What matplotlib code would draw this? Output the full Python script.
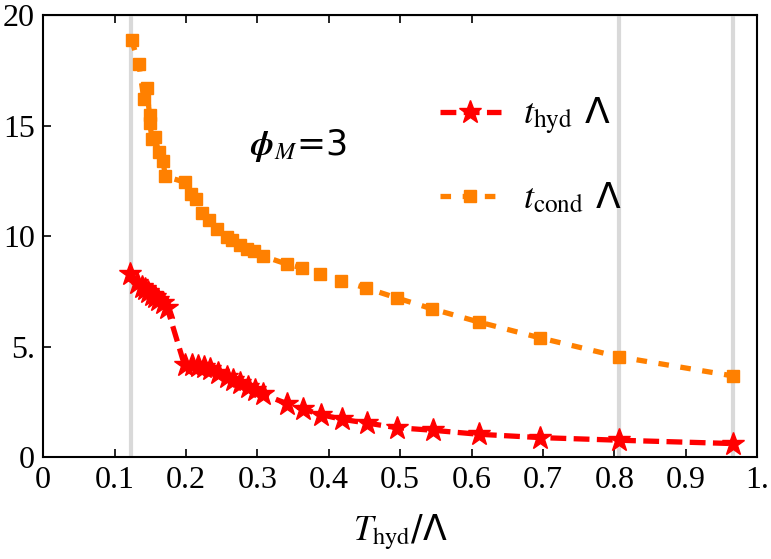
import numpy as np
import matplotlib
matplotlib.use("Agg")
import matplotlib.pyplot as plt

plt.rcParams['mathtext.fontset'] = 'stix'
plt.rcParams['font.family'] = ['Liberation Serif', 'DejaVu Serif']

# t_cond * Lambda (orange squares)
x_cond = [0.124, 0.134, 0.141, 0.145, 0.149, 0.149, 0.153, 0.156, 0.162, 0.168, 0.171,
          0.198, 0.207, 0.214, 0.223, 0.232, 0.244, 0.257, 0.264, 0.275, 0.285, 0.295,
          0.308, 0.341, 0.363, 0.388, 0.417, 0.452, 0.495, 0.545, 0.610, 0.696, 0.807, 0.966]
y_cond = [18.87, 17.8, 16.2, 16.7, 15.5, 15.1, 14.4, 14.5, 13.8, 13.4, 12.7,
          12.45, 11.9, 11.66, 11.07, 10.72, 10.32, 9.97, 9.82, 9.59, 9.41, 9.32,
          9.10, 8.74, 8.56, 8.31, 7.98, 7.66, 7.21, 6.71, 6.12, 5.40, 4.54, 3.68]

# t_hyd * Lambda (red stars)
x_hyd = [0.122, 0.131, 0.138, 0.143, 0.147, 0.152, 0.156, 0.161, 0.168, 0.174,
         0.198, 0.208, 0.217, 0.225, 0.233, 0.245, 0.257, 0.266, 0.275, 0.287, 0.296,
         0.308, 0.341, 0.364, 0.389, 0.418, 0.453, 0.495, 0.546, 0.610, 0.696, 0.807, 0.966]
y_hyd = [8.28, 7.86, 7.71, 7.59, 7.48, 7.36, 7.25, 7.13, 6.98, 6.73,
         4.16, 4.16, 4.12, 4.09, 4.01, 3.79, 3.63, 3.48, 3.36, 3.18, 3.06,
         2.85, 2.43, 2.18, 1.93, 1.72, 1.55, 1.34, 1.22, 1.04, 0.89, 0.77, 0.62]

# gray reference lines
vlines = [0.123, 0.807, 0.966]

xticks = [0, 0.1, 0.2, 0.3, 0.4, 0.5, 0.6, 0.7, 0.8, 0.9, 1.0]
xlabels = ['0', '0.1', '0.2', '0.3', '0.4', '0.5', '0.6', '0.7', '0.8', '0.9', '1.']
top_ticks = [0.1, 0.2, 0.3, 0.4, 0.5, 0.6]
yticks = [0, 5, 10, 15, 20]
ylabels = ['0', '5.', '10', '15', '20']

fig = plt.figure(figsize=(7.71, 5.59), dpi=100)
ax = fig.add_axes([0.056, 0.182, 0.926, 0.791])

for v in vlines:
    ax.axvline(v, color='#d9d9d9', lw=3, zorder=1)

ax.plot(x_cond, y_cond, color=(1, 0.5, 0), lw=3.8, ls=(0, (2, 2.2)),
        marker='s', ms=8, zorder=3, label=r'$t_{\rm cond}$ Λ')
ax.plot(x_hyd, y_hyd, color='red', lw=3.8, ls=(0, (3, 1.4)),
        marker='*', ms=17, zorder=4, label=r'$t_{\rm hyd}$ Λ')

ax.set_xlim(0, 1)
ax.set_ylim(0, 20)
ax.set_xticks(xticks)
ax.set_xticklabels(xlabels)
ax.set_yticks(yticks)
ax.set_yticklabels(ylabels)
ax.tick_params(direction='in', length=6, width=1.2, labelsize=23, pad=6)
for s in ax.spines.values():
    s.set_linewidth(1.5)

top = ax.secondary_xaxis('top')
top.set_xticks(top_ticks)
top.set_xticklabels([])
top.tick_params(direction='in', length=6, width=1.2)

ax.set_xlabel(r'$T_{\rm hyd}$/Λ', fontsize=25, labelpad=13,
              family=['DejaVu Sans'])

ax.text(0.357, 14.1, r'$\boldsymbol{\phi}_M$=3', fontsize=25, ha='center', va='center',
        family=['DejaVu Sans'])

h, l = ax.get_legend_handles_labels()
ax.legend(h[::-1], l[::-1], loc='upper left', bbox_to_anchor=(0.51, 0.89),
          frameon=False, prop={'family': 'DejaVu Sans', 'size': 26},
          handlelength=1.7, handletextpad=0.6, labelspacing=1.2, numpoints=1)

fig.savefig('out.png', dpi=100)
